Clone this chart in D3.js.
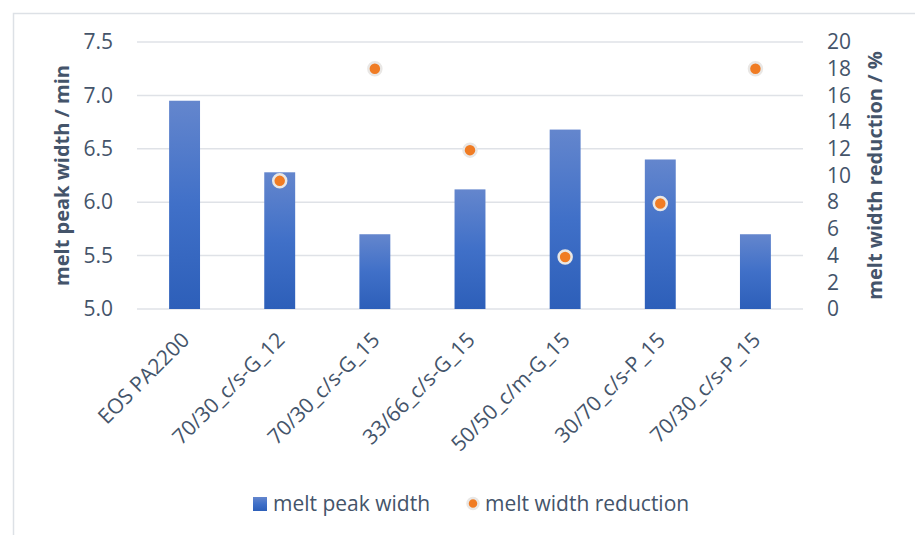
<!DOCTYPE html>
<html>
<head>
<meta charset="utf-8">
<script src="https://cdn.jsdelivr.net/npm/d3@7"></script>
<style>
  html, body { margin: 0; padding: 0; background: #fff; }
  svg { display: block; font-family: "Open Sans", sans-serif; }
</style>
</head>
<body>
<svg id="chart" width="915" height="535"></svg>
<script>
// Samples on the category axis
const categories = ["EOS PA2200", "70/30_c/s-G_12", "70/30_c/s-G_15", "33/66_c/s-G_15",
                    "50/50_c/m-G_15", "30/70_c/s-P_15", "70/30_c/s-P_15"];
// Melt peak width in minutes (left axis, bars)
const peakWidth = [6.95, 6.28, 5.70, 6.12, 6.68, 6.40, 5.70];
// Melt width reduction in percent relative to EOS PA2200 (right axis, points)
const widthReduction = [null, 9.6, 18.0, 11.9, 3.9, 7.9, 18.0];
// Tick labels
const leftTicks = [5.0, 5.5, 6.0, 6.5, 7.0, 7.5];
const rightTicks = [0, 2, 4, 6, 8, 10, 12, 14, 16, 18, 20];

const textColor = "#44546a";
const gridColor = "#dfe2e7";
const fontSize = 21;
const titleSize = 20;

const svg = d3.select("#chart");

// Chart frame
svg.append("rect")
  .attr("x", 13.5).attr("y", 13.5)
  .attr("width", 960).attr("height", 600)
  .attr("fill", "none").attr("stroke", "#dde1e6").attr("stroke-width", 1.5);

const defs = svg.append("defs");
const grad = defs.append("linearGradient")
  .attr("id", "barGrad").attr("x1", 0).attr("y1", 0).attr("x2", 0).attr("y2", 1);
grad.append("stop").attr("offset", "0%").attr("stop-color", "#6486cd");
grad.append("stop").attr("offset", "50%").attr("stop-color", "#4070c8");
grad.append("stop").attr("offset", "100%").attr("stop-color", "#2d5fb9");

const plot = { left: 137, right: 803, top: 42, bottom: 309 };

const x = d3.scaleBand().domain(categories).range([plot.left, plot.right]).paddingInner(0.675).paddingOuter(0.3375);
const yL = d3.scaleLinear().domain([5.0, 7.5]).range([plot.bottom, plot.top]);
const yR = d3.scaleLinear().domain([0, 20]).range([plot.bottom, plot.top]);

// Horizontal gridlines
svg.append("g")
  .selectAll("line").data(leftTicks).join("line")
  .attr("x1", plot.left).attr("x2", plot.right)
  .attr("y1", d => yL(d)).attr("y2", d => yL(d))
  .attr("stroke", gridColor).attr("stroke-width", 1.5);

// Left axis
const axL = svg.append("g").attr("transform", `translate(${plot.left},0)`)
  .call(d3.axisLeft(yL).tickValues(leftTicks).tickFormat(d3.format(".1f")).tickSize(0).tickPadding(24));
axL.select(".domain").remove();
axL.selectAll("text").attr("fill", textColor).attr("font-size", fontSize)
  .attr("font-family", "'Open Sans', sans-serif");

// Right axis
const axR = svg.append("g").attr("transform", `translate(${plot.right},0)`)
  .call(d3.axisRight(yR).tickValues(rightTicks).tickFormat(d3.format("d")).tickSize(0).tickPadding(24));
axR.select(".domain").remove();
axR.selectAll("text").attr("fill", textColor).attr("font-size", fontSize)
  .attr("font-family", "'Open Sans', sans-serif");

// Bars
svg.append("g")
  .selectAll("rect").data(peakWidth).join("rect")
  .attr("x", (d, i) => x(categories[i]))
  .attr("width", x.bandwidth())
  .attr("y", d => yL(d))
  .attr("height", d => yL(5.0) - yL(d))
  .attr("fill", "url(#barGrad)");

// Reduction points
svg.append("g")
  .selectAll("circle").data(widthReduction.map((v, i) => ({ v, c: categories[i] })).filter(d => d.v !== null))
  .join("circle")
  .attr("cx", d => x(d.c) + x.bandwidth() / 2)
  .attr("cy", d => yR(d.v))
  .attr("r", 6.5)
  .attr("fill", "#f07c24")
  .attr("stroke", "#e9e7e5").attr("stroke-width", 2.5);

// Category labels
svg.append("g")
  .selectAll("text").data(categories).join("text")
  .attr("transform", d => `translate(${x(d) + x.bandwidth() / 2 + 1},${plot.bottom + 27}) rotate(-45)`)
  .attr("text-anchor", "end")
  .attr("dy", "0.35em")
  .attr("fill", textColor).attr("font-size", fontSize)
  .text(d => d);

// Axis titles
svg.append("text")
  .attr("transform", `translate(69,${(plot.top + plot.bottom) / 2}) rotate(-90)`)
  .attr("text-anchor", "middle")
  .attr("fill", textColor).attr("font-size", titleSize).attr("font-weight", "bold")
  .text("melt peak width / min");

svg.append("text")
  .attr("transform", `translate(882,${(plot.top + plot.bottom) / 2}) rotate(-90)`)
  .attr("text-anchor", "middle")
  .attr("fill", textColor).attr("font-size", titleSize).attr("font-weight", "bold")
  .text("melt width reduction / %");

// Legend
const legend = svg.append("g");
legend.append("rect").attr("x", 253).attr("y", 497).attr("width", 14).attr("height", 14)
  .attr("fill", "url(#barGrad)");
legend.append("text").attr("x", 273).attr("y", 511)
  .attr("fill", textColor).attr("font-size", fontSize).text("melt peak width");
legend.append("circle").attr("cx", 473).attr("cy", 503.5).attr("r", 5.5)
  .attr("fill", "#f07c24").attr("stroke", "#e9e7e5").attr("stroke-width", 2.5);
legend.append("text").attr("x", 485).attr("y", 511)
  .attr("fill", textColor).attr("font-size", fontSize).text("melt width reduction");
</script>
</body>
</html>
